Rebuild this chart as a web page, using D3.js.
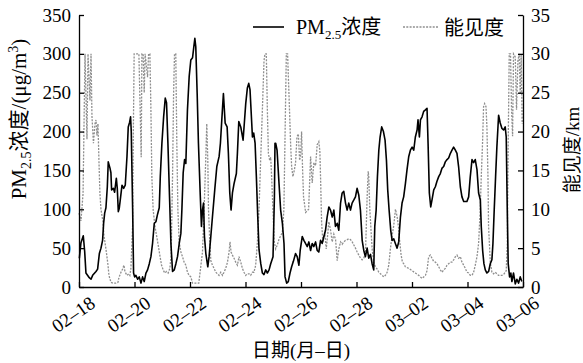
<!DOCTYPE html>
<html>
<head>
<meta charset="utf-8">
<script src="https://cdn.jsdelivr.net/npm/d3@7"></script>
<style>
  body { margin: 0; background: #fff; }
  svg { display: block; }
</style>
</head>
<body>
<script>
// Hours since 02-18 00:00, tick labels every two days
const tickHours = [0, 48, 96, 144, 192, 240, 288, 336, 384];
const tickLabels = ["02–18", "02–20", "02–22", "02–24", "02–26", "02–28", "03–02", "03–04", "03–06"];

// PM2.5 (μg/m3)
const pmHours = [0.3,1.7,3.7,4.9,6,8.9,10.4,11.8,14.7,16.1,17.6,19,20.4,21.3,22.2,23.3,24.5,25.3,26.8,27.6,28.2,29.7,30.8,32.3,33.1,34,34.8,36,37.2,38.6,40,41.5,42.6,43.8,44.6,45.2,46.4,47.2,48.1,49.2,50.7,52.1,53.6,55,56.4,57.9,59.3,60.8,62.2,63.6,65.1,66.5,68,69.4,70.3,71.7,73.2,74.6,75.7,76.9,78.3,79.5,80.9,82.4,83.8,85.2,86.7,88.1,89,90.1,91.3,
  92.4,93.8,95.3,96.7,98.2,99.3,100.2,101,102.2,103.3,104.8,105.9,106.8,107.7,108.5,109.7,111.4,112.5,114,115.4,117.4,119.2,121.2,122.3,123.5,124.9,126.4,128.1,129.2,130.4,131.5,132.7,134.1,136.1,137,138.2,139.9,141.9,143,144.2,145.6,146.8,147.9,149.1,150,151.1,152.3,153.4,154.6,155.7,157.2,158.6,160,161.5,162.9,164.4,165.8,167.8,169,169.5,170.1,171.3,173,174.4,175.9,177.3,178.2,179.6,181,182.5,183.9,185.4,
  187.3,188.7,190.2,191.3,193.1,194.5,195.9,197.4,198.8,200.3,201.7,203.1,204.6,206,207.4,208.9,210.3,211.8,213.2,214.6,216.1,217.5,219,220.4,221.8,223.3,224.7,226.2,227.6,229,230.5,231.9,233.3,234.8,236.2,237.7,239.1,240.5,242,243.4,244.9,246.3,247.7,249.2,250.6,252.1,253.5,254.9,255.8,257,258.1,259.3,260.4,261.8,263.3,264.7,265.9,267,268.2,269.6,270.8,272.2,273.6,275.1,276.5,278,279.4,280.8,
  282.3,283.7,285.2,286.6,288.1,289.5,290.9,292.4,293.2,294.4,295.3,296.7,298.1,299.6,301,301.9,303,304.2,305.3,306.8,308.2,309.6,311.1,312.5,314,315.4,316.8,318.3,319.7,321.2,322.6,324,325.5,326.9,328.3,329.8,331.2,332.7,334.1,335.5,337,338.4,339.9,341.3,342.7,344.2,345.6,347.1,347.9,349.1,350.2,351.4,352.8,354.3,355.7,357.1,358,359.1,360.3,361.4,362.9,364.3,365.8,367.2,368.6,369.5,370.4,371.2,372.4,373.5,374.4,375.8,377.3,378.7,380.2,381.6,383];
const pmValues = [37,57,66,46,18,12,10,15,20,23,43,50,60,82,95,102,129,161,153,147,125,127,122,140,127,97,101,116,131,127,131,168,206,212,219,200,100,18,13,15,10,13,5,13,7,18,22,30,39,56,82,84,94,102,142,185,219,243,237,185,116,56,20,22,30,39,56,69,100,147,164,
  159,228,271,292,295,309,320,309,249,185,121,78,99,108,65,43,26,39,65,90,125,155,168,185,215,249,211,206,172,121,99,121,133,146,172,213,206,189,211,236,256,262,254,219,193,198,185,142,90,48,30,18,16,22,18,22,30,39,116,185,185,176,133,99,82,56,13,5,7,18,26,33,
  43,39,28,47,65,60,56,52,58,47,56,52,58,47,45,60,56,65,73,90,103,99,90,99,78,82,73,108,121,123,108,99,108,99,108,112,116,127,118,99,60,47,39,50,37,42,30,22,78,99,142,176,193,206,200,189,163,125,99,73,60,62,56,50,58,90,108,116,
  133,151,168,176,180,176,193,202,215,193,215,219,226,228,230,185,121,103,112,125,129,136,142,146,153,155,161,164,166,172,176,180,176,172,155,129,116,110,110,110,116,142,164,160,164,151,121,112,78,47,30,22,18,20,30,35,56,99,142,180,221,211,204,202,206,193,99,30,13,18,7,18,4,10,5,13,7];

// Visibility (km)
const visHours = [0,1.7,3.5,5.2,6.9,7.8,9.5,10.4,11.2,12.5,13.8,14.7,15.5,16.4,17.3,18.1,19,20.7,21.6,23.3,25.1,25.9,27.6,29.4,31.9,33.7,34.5,36.3,38,38.8,39.7,41.4,43.2,44,44.9,46.4,46.9,47.7,51.8,52.9,53.8,54.4,55.5,56.4,57.2,59.3,60.2,61.3,62.2,63,64.1,65.6,67.1,68.5,69.9,71.4,72.8,74.2,75.7,77.1,78.6,79.7,80.9,81.8,82.6,83.7,84.6,85.5,86.6,88.1,89.5,90.9,92.4,93.8,95.2,96.7,98.2,103.6,
  106.8,108.2,109.6,110.5,111.4,112,113.1,114,115.4,116.8,118.3,119.7,121.1,122.6,124.1,125.4,126.9,128.4,129.8,130.6,131.5,132.7,134.1,135.5,137,138.4,139.9,141.3,142.7,144.2,145.6,147,148.5,150,151.3,152.8,154.3,155.7,157.1,158.6,160,160.8,162,162.9,163.8,164.9,165.8,166.6,167.7,168.9,170.1,171.5,172.9,174.4,175.9,177.2,178.1,179.3,180.4,181.6,183,183.9,185,186.2,187.3,188.5,189.7,190.8,191.7,
  192.5,193.4,194.2,196,198.6,200.3,201.7,203.1,204.6,206,207.4,208.3,208.9,209.8,210.9,212.6,213.8,215,216.1,217.6,219,220.4,221.9,223.3,224.7,226.2,227.6,229,230.5,232,233.3,234.8,236.3,237.7,239.1,240.6,242,243.5,244.9,246.3,247.8,249.2,250.1,250.6,251.5,252.3,253.5,254.9,256.4,257.9,259.3,260.7,262.2,263.6,265,266.5,267.9,269.3,270.8,272.2,273.7,275.1,276.5,277.4,278.6,279.7,280.8,
  282.3,285.2,288.1,290.9,293.8,296.7,299.6,301,302.4,303.9,305.3,306.7,308.2,309.6,311.1,312.5,314,315.4,316.8,318.3,319.7,321.1,322.6,324,325.5,326.9,328.3,329.8,331.2,332.7,334.1,335.5,337,338.4,339.9,341.3,342.7,344.2,345.6,347,347.9,349,349.9,350.8,352,352.8,353.7,354.2,355.7,357.1,358.5,360,361.4,362.8,364.3,365.8,367.2,368.6,369.5,370.4,371.2,372.1,373.2,374.1,375,375.8,377.3,378.4,379.6,380.7,381.6,382.4,383.3];
const visValues = [9.5,8.5,12,30,19,30,24,30,22,18.5,21,21.5,19.5,21,16,12,10,8.4,6.6,4.9,2.8,1.5,0.6,0.5,0.5,0.6,1.2,1.9,2.4,2.8,2,1.5,1.7,1.5,2.4,8,18.5,30,30,22.8,16.7,30,30,25,30,27,30,30,22.8,14.2,10,7.9,6.6,5.4,4.1,2.8,2.2,1.8,2,1.8,2.4,4.1,14.2,24.8,30,30,18.5,10,5.8,4.5,3.9,3.2,2.8,1.9,1.5,1.3,0.5,0.5,
  4.5,10,16.3,21,16.3,10,5.8,3.4,2.8,2.4,1.9,1.7,1.5,1.9,1.5,1.9,2.4,3.2,4.5,5.8,4.5,4.1,3.7,3.2,2.8,3.9,3.2,2.4,1.9,1.5,1.7,1.7,1.5,1.9,1.9,2.8,5.8,10,16.3,22.8,29.1,30,30,22.8,17.2,16.3,16.7,14.2,10,5.8,4.9,5.4,6.1,6.6,7,10,18.5,30,30,24.8,18.5,15.5,14.2,15,16,19.3,19.7,16.3,17,
  20,15,11.6,9.6,10,16.8,13.4,16,15.6,18.3,18.7,17.5,14.2,8.4,5.8,7,4.9,6.6,8.4,7.3,5.8,6.8,6.1,3.4,4.9,5.8,5.5,5.8,6,6.1,6.2,6.1,5.8,5.4,5,4.5,4.1,3.7,3.5,3.7,4.5,11.6,14.9,14.2,10,8,4.9,3.2,2.6,2.3,1.9,1.7,1.5,1.3,1.5,1.9,2.8,4.9,6.6,7.9,10,9.1,7.5,5.8,4.1,3.2,3,
  2.6,2.4,2.1,1.8,1.5,1.1,1.5,2.1,3.9,4.1,3.7,3.3,3.2,3,2.6,2.2,1.9,2.2,2.4,2.8,3,3.2,3.2,3.5,3.9,4.1,3.7,3.9,3.2,2.8,2.4,1.9,1.8,1.5,1.5,1.9,2.8,3.9,5.6,9.9,14.2,18.5,23.2,23.6,23.2,20.6,14.2,7.9,3.2,1.9,1.7,1.9,1.7,1.5,1.5,1.5,1.6,1.9,2.1,5.6,18.5,30,30,22.8,19.4,30,29.6,22.8,29.1,30,24.8,30,21];

const W = 583, H = 363;
const margin = { top: 15, right: 60, bottom: 76, left: 79 };
const width = W - margin.left - margin.right;
const height = H - margin.top - margin.bottom;
const serif = "'Liberation Serif', 'Times New Roman', 'Noto Sans CJK SC', serif";

const svg = d3.select("body").append("svg")
    .attr("width", W)
    .attr("height", H)
    .style("font-family", serif);

const g = svg.append("g")
    .attr("transform", `translate(${margin.left},${margin.top})`);

const x = d3.scaleLinear().domain([0, 384]).range([0, width]);
const yPm = d3.scaleLinear().domain([0, 350]).range([height, 0]);
const yVis = d3.scaleLinear().domain([0, 35]).range([height, 0]);

const pmData = pmHours.map((h, i) => ({ h: h, v: pmValues[i] }));
const visData = visHours.map((h, i) => ({ h: h, v: visValues[i] }));

// series
g.append("path")
    .datum(visData)
    .attr("fill", "none")
    .attr("stroke", "#8f8f8f")
    .attr("stroke-width", 1.3)
    .attr("stroke-dasharray", "2,1.3")
    .attr("d", d3.line().x(d => x(d.h)).y(d => yVis(d.v)));

g.append("path")
    .datum(pmData)
    .attr("fill", "none")
    .attr("stroke", "#000")
    .attr("stroke-width", 1.6)
    .attr("stroke-linejoin", "round")
    .attr("d", d3.line().x(d => x(d.h)).y(d => yPm(d.v)));

// axes
function styleAxis(sel) {
    sel.select(".domain").attr("stroke", "#000").attr("stroke-width", 1.3);
    sel.selectAll(".tick line").attr("stroke", "#000").attr("stroke-width", 1.3);
    sel.selectAll(".tick text")
        .attr("fill", "#000")
        .style("font-family", serif)
        .style("font-size", "19px");
}

g.append("g")
    .call(d3.axisLeft(yPm).tickValues(d3.range(0, 351, 50)).tickSizeInner(-5).tickSizeOuter(0).tickPadding(8))
    .call(styleAxis);

g.append("g")
    .attr("transform", `translate(${width},0)`)
    .call(d3.axisRight(yVis).tickValues(d3.range(0, 36, 5)).tickSizeInner(-5).tickSizeOuter(0).tickPadding(8))
    .call(styleAxis);

const xAxisG = g.append("g")
    .attr("transform", `translate(0,${height})`)
    .call(d3.axisBottom(x).tickValues(tickHours).tickFormat((d, i) => tickLabels[i]).tickSizeInner(-5).tickSizeOuter(0))
    .call(styleAxis);

xAxisG.selectAll(".tick text")
    .attr("text-anchor", "end")
    .attr("x", 0)
    .attr("y", 0)
    .attr("dy", 0)
    .attr("transform", "translate(17,19) rotate(-35)");

// axis titles
svg.append("text")
    .attr("x", margin.left + width / 2)
    .attr("y", 357)
    .attr("text-anchor", "middle")
    .style("font-size", "19px")
    .text("日期(月–日)");

const leftTitle = svg.append("text")
    .attr("transform", "translate(26,119) rotate(-90)")
    .attr("text-anchor", "middle")
    .style("font-size", "21px");
leftTitle.append("tspan").text("PM");
leftTitle.append("tspan").attr("dy", 5).style("font-size", "14px").text("2.5");
leftTitle.append("tspan").attr("dy", -5).text("浓度/(μg/m");
leftTitle.append("tspan").attr("dy", -8).style("font-size", "14px").text("3");
leftTitle.append("tspan").attr("dy", 8).text(")");

svg.append("text")
    .attr("transform", "translate(579,150) rotate(-90)")
    .attr("text-anchor", "middle")
    .style("font-size", "19px")
    .text("能见度/km");

// legend
const legend = svg.append("g");
legend.append("line")
    .attr("x1", 253).attr("x2", 284).attr("y1", 27).attr("y2", 27)
    .attr("stroke", "#000").attr("stroke-width", 1.6);
const lgText = legend.append("text")
    .attr("x", 296).attr("y", 34)
    .style("font-size", "20px");
lgText.append("tspan").text("PM");
lgText.append("tspan").attr("dy", 5).style("font-size", "13px").text("2.5");
lgText.append("tspan").attr("dy", -5).text("浓度");

legend.append("line")
    .attr("x1", 403).attr("x2", 438).attr("y1", 27).attr("y2", 27)
    .attr("stroke", "#8f8f8f").attr("stroke-width", 1.3).attr("stroke-dasharray", "2,1.3");
legend.append("text")
    .attr("x", 444).attr("y", 35)
    .style("font-size", "20px")
    .text("能见度");
</script>
</body>
</html>
